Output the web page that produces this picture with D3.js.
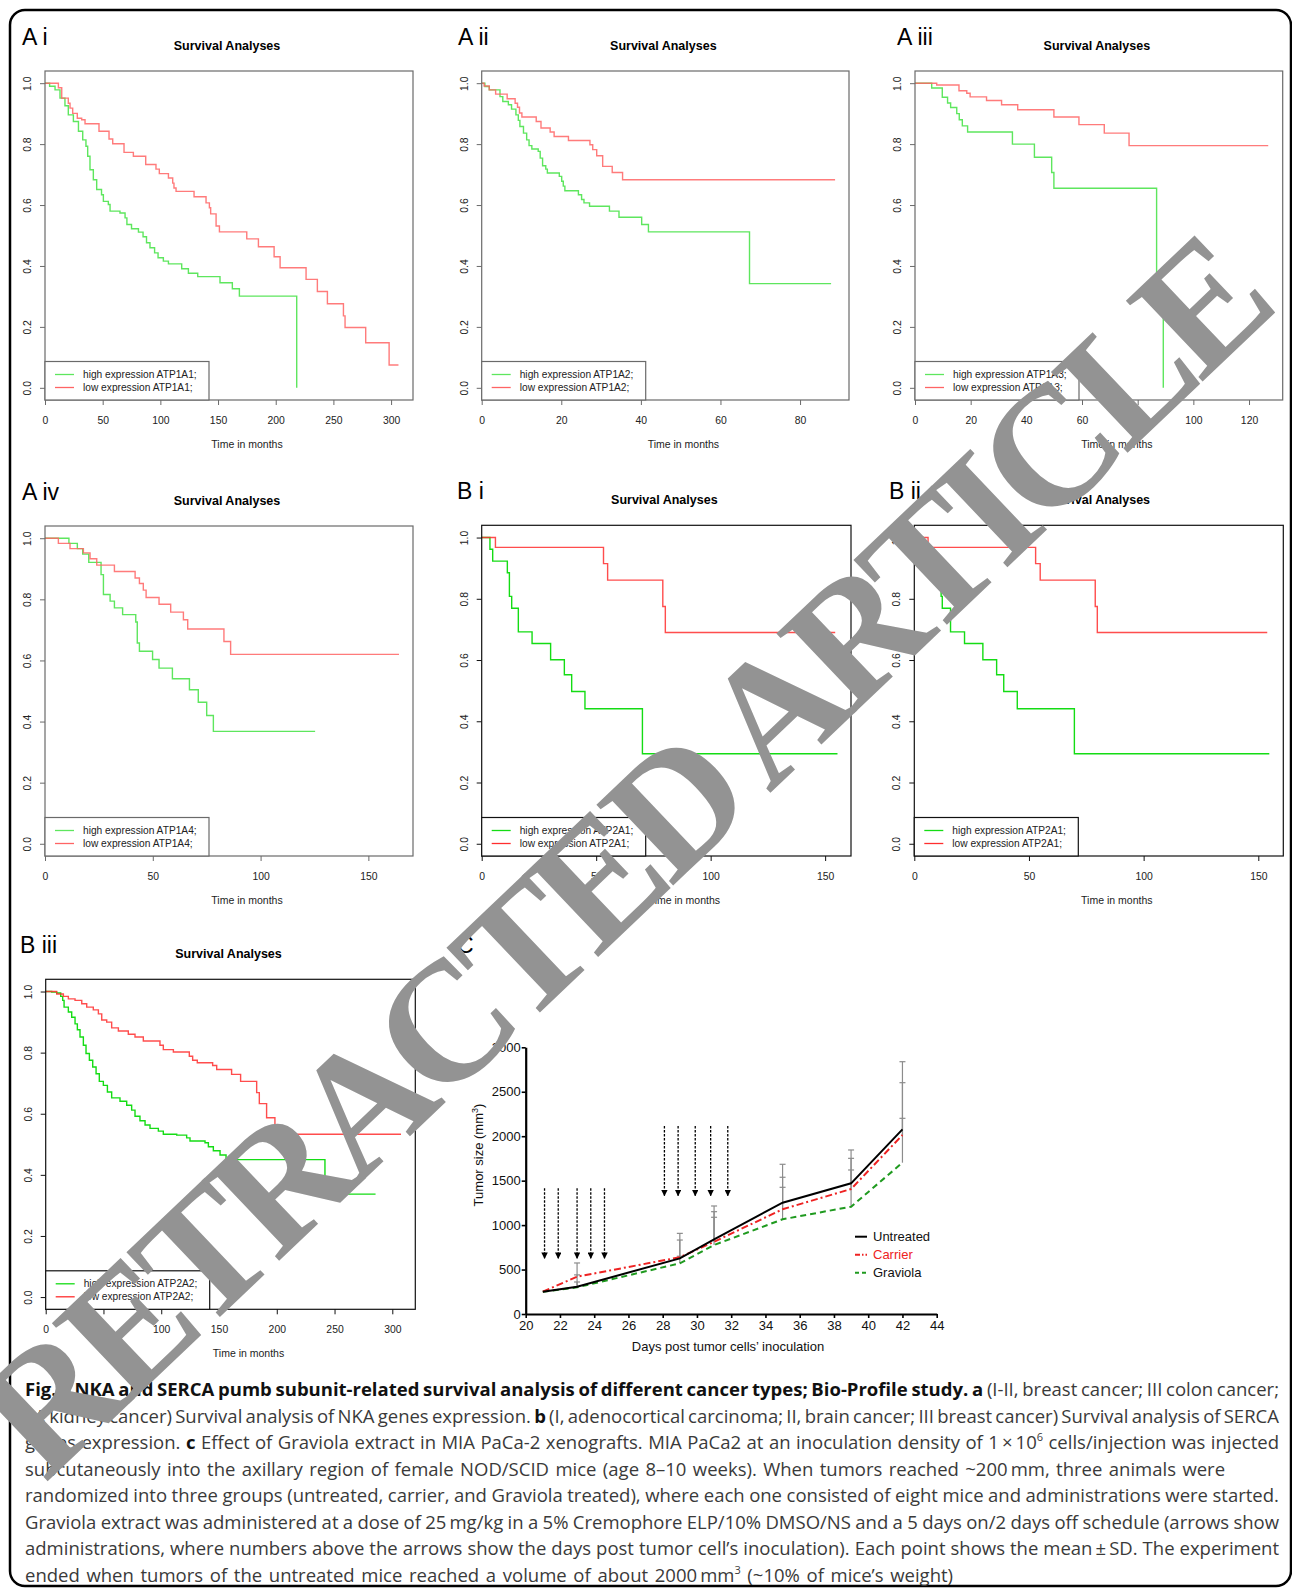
<!DOCTYPE html>
<html>
<head>
<meta charset="utf-8">
<script src="https://cdn.jsdelivr.net/npm/d3@7"></script>
<style>
  body { margin: 0; background: #fff; }
  svg { display: block; }
</style>
</head>
<body>
<script>
// ---- survival curves: [time in months, survival after the drop] ----
const aiHigh = [[0,1],[4,0.99],[8.7,0.978],[13,0.951],[17.3,0.926],[20.2,0.896],[24.6,0.874],[29,0.842],[32.7,0.814],[35.5,0.793],[37,0.76],[39,0.716],[41.9,0.683],[44.8,0.651],[49,0.634],[50.6,0.612],[54.9,0.602],[56.4,0.58],[65,0.574],[69.4,0.558],[71,0.536],[75,0.522],[81,0.511],[85,0.496],[88,0.476],[91,0.46],[95,0.443],[98,0.427],[102.6,0.416],[107,0.407],[118.5,0.391],[124.3,0.376],[132.4,0.365],[151.7,0.345],[162.4,0.325],[168.5,0.301],[218.2,0]];
const aiLow = [[0,1],[11.6,0.985],[14.5,0.951],[20.2,0.934],[21.7,0.918],[24,0.901],[28,0.885],[31.8,0.88],[34.7,0.867],[46.8,0.842],[55.5,0.817],[58.7,0.801],[68.5,0.773],[76.6,0.76],[87.3,0.733],[96.2,0.718],[99.1,0.703],[107,0.689],[110.7,0.672],[111.8,0.656],[113.6,0.645],[129.2,0.627],[139.6,0.607],[142.5,0.591],[143.6,0.571],[148.3,0.531],[151.2,0.512],[174.9,0.489],[185,0.463],[198.6,0.43],[203.8,0.394],[226.3,0.356],[236.1,0.316],[244.8,0.276],[258.7,0.236],[260.1,0.198],[278,0.148],[298.3,0.075],[306.4,0.075]];
const aiiHigh = [[0,1],[0.8,0.989],[1.9,0.978],[4.6,0.956],[5.3,0.94],[6.7,0.929],[7.5,0.915],[8.6,0.896],[9.2,0.878],[9.6,0.858],[10.5,0.836],[11.3,0.814],[11.9,0.795],[12.6,0.784],[14.2,0.776],[14.7,0.754],[15.3,0.729],[16.1,0.718],[16.5,0.705],[19.5,0.694],[20.1,0.678],[20.5,0.662],[20.9,0.647],[24.3,0.634],[25.1,0.618],[25.7,0.607],[27.1,0.596],[32.1,0.58],[34.5,0.56],[40.2,0.536],[41.9,0.512],[67.3,0.342],[87.8,0.342]];
const aiiLow = [[0,1],[0.6,0.991],[1.9,0.978],[3.5,0.964],[6.4,0.949],[8.4,0.934],[9,0.921],[9.5,0.902],[10.1,0.889],[13.7,0.874],[14.9,0.853],[17.2,0.84],[18.2,0.825],[21.8,0.812],[27.2,0.798],[27.9,0.782],[28.9,0.762],[30.4,0.727],[32.8,0.707],[35.4,0.683],[88.8,0.683]];
const aiiiHigh = [[0,1],[6,0.984],[9.8,0.954],[11.7,0.935],[12.8,0.92],[15,0.9],[15.9,0.88],[17,0.86],[18.9,0.84],[35,0.8],[42.9,0.757],[49.1,0.707],[49.9,0.655],[86.8,0.328],[89.2,0]];
const aiiiLow = [[0,1],[7.8,0.994],[15.8,0.975],[18.6,0.967],[19.8,0.955],[25.7,0.943],[31.1,0.929],[36.9,0.913],[49.9,0.889],[58.9,0.864],[68,0.836],[76.9,0.795],[126.9,0.795]];
const aivHigh = [[0,1],[11.1,0.983],[15,0.966],[17.5,0.948],[20.3,0.921],[26,0.881],[27.1,0.816],[30.2,0.794],[32.2,0.772],[36,0.75],[42.1,0.726],[42.8,0.657],[43.8,0.63],[49.9,0.603],[52.9,0.575],[59.1,0.54],[67,0.504],[71.1,0.463],[75,0.42],[78.1,0.368],[125.3,0.368]];
const aivLow = [[0,1],[6.2,0.983],[11.6,0.966],[17.8,0.952],[20.9,0.933],[24,0.912],[32.2,0.891],[41.8,0.87],[43.8,0.852],[45.6,0.83],[46.9,0.806],[52.9,0.784],[58.3,0.758],[64.2,0.733],[66.2,0.703],[83,0.662],[86.1,0.62],[164.2,0.62]];
const biHigh = [[0,1],[3.6,0.962],[4.8,0.923],[11.2,0.885],[12.1,0.808],[13.1,0.769],[16,0.692],[22,0.654],[30.1,0.601],[36.1,0.552],[39.3,0.497],[45.1,0.441],[70.2,0.294],[155.4,0.294]];
const biLow = [[0,1],[6,0.968],[53.2,0.915],[55,0.861],[79.1,0.775],[80.2,0.69],[154.4,0.69]];
const biiHigh = [[0,1],[3.9,0.962],[4.9,0.923],[10.9,0.885],[11.7,0.808],[12.2,0.769],[15.8,0.692],[21.9,0.654],[29.9,0.601],[35.9,0.552],[39,0.497],[44.9,0.441],[69.8,0.294],[154.8,0.294]];
const biiLow = [[0,1],[6,0.968],[52.9,0.915],[54.9,0.861],[78.9,0.775],[79.8,0.69],[153.9,0.69]];
const biiiHigh = [[0,1],[5.2,0.998],[9.5,0.995],[13,0.984],[14.7,0.971],[15.9,0.949],[19.6,0.933],[22.5,0.916],[25.4,0.894],[27.4,0.875],[29.7,0.851],[32.6,0.824],[34.9,0.797],[37.8,0.775],[40.7,0.753],[43.6,0.731],[46.4,0.706],[49.9,0.693],[53.4,0.671],[57.1,0.652],[64.3,0.641],[70.1,0.628],[74.4,0.612],[77.3,0.592],[81.6,0.577],[86,0.563],[90.3,0.552],[97.5,0.543],[101.8,0.533],[113.4,0.53],[122,0.521],[124.9,0.511],[137.9,0.505],[140.8,0.492],[145.1,0.479],[150.9,0.465],[156.1,0.45],[241.7,0.337],[285.5,0.337]];
const biiiLow = [[0,1],[9.5,0.992],[15.3,0.984],[19.6,0.976],[25.4,0.971],[31.2,0.96],[35.5,0.949],[41.2,0.94],[45.6,0.927],[48.5,0.907],[52.8,0.9],[57.1,0.881],[62.9,0.871],[71.5,0.86],[77.3,0.851],[84.5,0.838],[98.9,0.824],[101.8,0.81],[110.5,0.802],[124.3,0.788],[127.2,0.775],[131.2,0.767],[144.5,0.758],[148,0.745],[160.9,0.729],[168.7,0.706],[182.6,0.669],[184.9,0.633],[191.2,0.587],[198.4,0.533],[307.5,0.533]];

const survTicks = [0, 0.2, 0.4, 0.6, 0.8, 1.0];

// ---- panel C: tumour volume (mm3) ----
const days = [21, 23, 29, 31, 35, 39, 42];
const untreated = [251, 307, 626, 840, 1252, 1470, 2077];
const carrier = [251, 420, 638, 813, 1178, 1406, 2013];
const graviola = [251, 300, 570, 776, 1065, 1207, 1702];
const untreatedSD = [0, 133, 281, 375, 432, 375, 761];
const carrierSD = [0, 154, 194, 338, 360, 345, 589];
const graviolaSD = [0, 60, 80, 312, 360, 413, 499];
const doseDays1 = [21.1, 21.9, 23.0, 23.8, 24.6];
const doseDays2 = [28.1, 28.9, 29.9, 30.8, 31.8];
const dayTicks = d3.range(20, 45, 2);
const volTicks = d3.range(0, 3001, 500);

const W = 1292, H = 1588;
const svg = d3.select("body").append("svg").attr("width", W).attr("height", H);
const sans = "'Liberation Sans', Arial, Helvetica, sans-serif";

// outer frame
svg.append("rect")
  .attr("x", 10).attr("y", 10).attr("width", 1281).attr("height", 1576)
  .attr("rx", 15).attr("fill", "none").attr("stroke", "#000").attr("stroke-width", 2.5);

const panels = [
  {label: "A i", lx: 22, ly: 45, x0: 45, y0: 71, x1: 413, y1: 400, xmax: 319, xticks: d3.range(0, 301, 50), high: aiHigh, low: aiLow, gene: "ATP1A1", kind: "A"},
  {label: "A ii", lx: 458, ly: 45, x0: 481.7, y0: 71, x1: 849, y1: 400, xmax: 92.3, xticks: d3.range(0, 81, 20), high: aiiHigh, low: aiiLow, gene: "ATP1A2", kind: "A"},
  {label: "A iii", lx: 897, ly: 45, x0: 915, y0: 71, x1: 1282.7, y1: 400, xmax: 132.1, xticks: d3.range(0, 121, 20), high: aiiiHigh, low: aiiiLow, gene: "ATP1A3", kind: "A"},
  {label: "A iv", lx: 22, ly: 500, x0: 45, y0: 526, x1: 413, y1: 856, xmax: 170.7, xticks: [0, 50, 100, 150], high: aivHigh, low: aivLow, gene: "ATP1A4", kind: "A"},
  {label: "B i", lx: 457, ly: 499, x0: 481.7, y0: 525.3, x1: 851, y1: 856, xmax: 161.3, xticks: [0, 50, 100, 150], high: biHigh, low: biLow, gene: "ATP2A1", kind: "B"},
  {label: "B ii", lx: 889, ly: 499, x0: 914.3, y0: 525.3, x1: 1283.3, y1: 856, xmax: 160.9, xticks: [0, 50, 100, 150], high: biiHigh, low: biiLow, gene: "ATP2A1", kind: "B"},
  {label: "B iii", lx: 20, ly: 953, x0: 45.7, y0: 979.3, x1: 415.3, y1: 1309.3, xmax: 319.9, xticks: d3.range(0, 301, 50), high: biiiHigh, low: biiiLow, gene: "ATP2A2", kind: "B"}
];

function kmPanel(p) {
  const g = svg.append("g");
  const x = d3.scaleLinear().domain([0, p.xmax]).range([p.x0, p.x1]);
  const y = d3.scaleLinear().domain([-0.04, 1.04]).range([p.y1, p.y0]);
  const boxCol = p.kind === "A" ? "#6a6a6a" : "#111";
  const green = p.kind === "A" ? "#5ee65e" : "#14dc14";
  const red = p.kind === "A" ? "#ff6464" : "#ff2e2e";
  const cx = (p.x0 + p.x1) / 2;

  g.append("text").attr("x", p.lx).attr("y", p.ly)
    .attr("font-family", sans).attr("font-size", 23).text(p.label);
  g.append("text").attr("x", cx - 2).attr("y", p.y0 - 21)
    .attr("text-anchor", "middle").attr("font-family", sans)
    .attr("font-size", 12.5).attr("font-weight", "bold").text("Survival Analyses");
  g.append("text").attr("x", cx + 18).attr("y", p.y1 + 48)
    .attr("text-anchor", "middle").attr("font-family", sans)
    .attr("font-size", 10.5).attr("fill", "#222").text("Time in months");

  const line = d3.line().curve(d3.curveStepAfter).x(d => x(d[0])).y(d => y(d[1]));
  g.append("path").datum(p.high).attr("d", line).attr("fill", "none")
    .attr("stroke", green).attr("stroke-width", 1.4);
  g.append("path").datum(p.low).attr("d", line).attr("fill", "none")
    .attr("stroke", red).attr("stroke-width", 1.4).attr("stroke-opacity", 0.85);

  // axes
  const xa = g.append("g").attr("transform", `translate(0,${p.y1})`)
    .call(d3.axisBottom(x).tickValues(p.xticks).tickSize(5).tickFormat(d3.format("d")));
  xa.select(".domain").remove();
  xa.selectAll("line").attr("stroke", boxCol);
  xa.selectAll("text").attr("dy", null).attr("y", 24)
    .attr("font-family", sans).attr("font-size", 10.4).attr("fill", "#222");

  const ya = g.append("g").attr("transform", `translate(${p.x0},0)`)
    .call(d3.axisLeft(y).tickValues(survTicks).tickSize(5).tickFormat(d3.format(".1f")));
  ya.select(".domain").remove();
  ya.selectAll("line").attr("stroke", boxCol);
  ya.selectAll("text").attr("dy", null).attr("x", 0).attr("y", -14)
    .attr("transform", "rotate(-90)").attr("text-anchor", "middle")
    .attr("font-family", sans).attr("font-size", 10.4).attr("fill", "#222");

  g.append("rect").attr("x", p.x0).attr("y", p.y0)
    .attr("width", p.x1 - p.x0).attr("height", p.y1 - p.y0)
    .attr("fill", "none").attr("stroke", boxCol).attr("stroke-width", 1.2);

  // legend
  const lg = g.append("g").attr("transform", `translate(${p.x0},${p.y1 - 38.5})`);
  lg.append("rect").attr("width", 164).attr("height", 38.5)
    .attr("fill", "#fff").attr("stroke", boxCol).attr("stroke-width", 1.2);
  [["high expression " + p.gene + ";", green], ["low expression " + p.gene + ";", red]]
    .forEach(([t, c], i) => {
      const yy = 13 + i * 13;
      lg.append("line").attr("x1", 10).attr("x2", 29).attr("y1", yy).attr("y2", yy)
        .attr("stroke", c).attr("stroke-width", 1.3);
      lg.append("text").attr("x", 38).attr("y", yy + 3.6)
        .attr("font-family", sans).attr("font-size", 10.2).attr("fill", "#222").text(t);
    });
}
panels.forEach(kmPanel);

// ---- panel C ----
(function () {
  const g = svg.append("g");
  const x = d3.scaleLinear().domain([20, 44]).range([525.7, 936.7]);
  const y = d3.scaleLinear().domain([0, 3000]).range([1314, 1047.3]);

  g.append("text").attr("x", 457).attr("y", 953)
    .attr("font-family", sans).attr("font-size", 23).text("C");

  const xa = g.append("g").attr("transform", "translate(0,1314)")
    .call(d3.axisBottom(x).tickValues(dayTicks).tickSize(4).tickSizeOuter(0));
  xa.select(".domain").attr("stroke-width", 2.2);
  xa.selectAll("line").attr("stroke-width", 1.6);
  xa.selectAll("text").attr("dy", null).attr("y", 16)
    .attr("font-family", sans).attr("font-size", 13).attr("fill", "#111");

  const ya = g.append("g").attr("transform", "translate(525.7,0)")
    .call(d3.axisLeft(y).tickValues(volTicks).tickSize(4).tickPadding(1)
      .tickSizeOuter(0).tickFormat(d3.format("d")));
  ya.select(".domain").attr("stroke-width", 2.2);
  ya.selectAll("line").attr("stroke-width", 1.6);
  ya.selectAll("text").attr("font-family", sans).attr("font-size", 13).attr("fill", "#111");

  g.append("text").attr("transform", "translate(483,1155) rotate(-90)")
    .attr("text-anchor", "middle").attr("font-family", sans).attr("font-size", 13)
    .attr("fill", "#111")
    .html("Tumor size (mm<tspan dy='-5' font-size='9'>3</tspan><tspan dy='5'>)</tspan>");
  g.append("text").attr("x", 728).attr("y", 1351)
    .attr("text-anchor", "middle").attr("font-family", sans).attr("font-size", 13)
    .attr("fill", "#111").text("Days post tumor cells\u2019 inoculation");

  // dosing arrows
  svg.append("defs").append("marker").attr("id", "ah")
    .attr("viewBox", "0 0 10 10").attr("refX", 9).attr("refY", 5)
    .attr("markerWidth", 5).attr("markerHeight", 5).attr("orient", "auto")
    .append("path").attr("d", "M0,0L10,5L0,10z").attr("fill", "#000");
  [[doseDays1, 1414, 627], [doseDays2, 2115, 1331]].forEach(([ds, top, bot]) => {
    g.selectAll(null).data(ds).join("line")
      .attr("x1", d => x(d)).attr("x2", d => x(d))
      .attr("y1", y(top)).attr("y2", y(bot))
      .attr("stroke", "#000").attr("stroke-width", 1.3)
      .attr("stroke-dasharray", "2.5,1.5").attr("marker-end", "url(#ah)");
  });

  const series = [
    {name: "Untreated", vals: untreated, sd: untreatedSD, color: "#000", dash: null, w: 2, text: "#111"},
    {name: "Carrier", vals: carrier, sd: carrierSD, color: "#ee2222", dash: "7,3,2,3", w: 2, text: "#ee2222"},
    {name: "Graviola", vals: graviola, sd: graviolaSD, color: "#1f9a1f", dash: "6,4", w: 2, text: "#111"}
  ];

  // error bars (upper SD)
  series.forEach(s => {
    days.forEach((d, i) => {
      if (!s.sd[i]) return;
      const xx = x(d), y0 = y(s.vals[i]), y1 = y(s.vals[i] + s.sd[i]);
      g.append("line").attr("x1", xx).attr("x2", xx).attr("y1", y0).attr("y2", y1)
        .attr("stroke", "#8c8c8c").attr("stroke-width", 1.2);
      g.append("line").attr("x1", xx - 3).attr("x2", xx + 3).attr("y1", y1).attr("y2", y1)
        .attr("stroke", "#8c8c8c").attr("stroke-width", 1.2);
    });
  });

  const line = d3.line().x((d, i) => x(days[i])).y(d => y(d));
  series.slice().reverse().forEach(s => {
    g.append("path").datum(s.vals).attr("d", line).attr("fill", "none")
      .attr("stroke", s.color).attr("stroke-width", s.w)
      .attr("stroke-dasharray", s.dash);
  });

  series.forEach((s, i) => {
    const yy = 1236.7 + i * 18;
    g.append("line").attr("x1", 855).attr("x2", 867).attr("y1", yy).attr("y2", yy)
      .attr("stroke", s.color).attr("stroke-width", 2)
      .attr("stroke-dasharray", i === 1 ? "5,2,1.5,2" : i === 2 ? "4,3" : null);
    g.append("text").attr("x", 873).attr("y", yy + 4.6)
      .attr("font-family", sans).attr("font-size", 13).attr("fill", s.text).text(s.name);
  });
})();

// ---- caption ----
const capLines = [
  {segs: [["Fig. 6 NKA and SERCA pumb subunit-related survival analysis of different cancer types; Bio-Profile study. a", "b"], [" (I-II, breast cancer; III colon cancer;", "n"]], w: 1254},
  {segs: [["IV, kidney cancer) Survival analysis of NKA genes expression. ", "n"], ["b", "b"], [" (I, adenocortical carcinoma; II, brain cancer; III breast cancer) Survival analysis of SERCA", "n"]], w: 1254},
  {segs: [["genes expression. ", "n"], ["c", "b"], [" Effect of Graviola extract in MIA PaCa-2 xenografts. MIA PaCa2 at an inoculation density of 1\u2009\u00d7\u200910", "n"], ["6", "s"], [" cells/injection was injected", "n"]], w: 1254},
  {segs: [["subcutaneously into the axillary region of female NOD/SCID mice (age 8\u201310 weeks). When tumors reached ~200\u2009mm, three animals were", "n"]], w: 1200},
  {segs: [["randomized into three groups (untreated, carrier, and Graviola treated), where each one consisted of eight mice and administrations were started.", "n"]], w: 1254},
  {segs: [["Graviola extract was administered at a dose of 25\u2009mg/kg in a 5% Cremophore ELP/10% DMSO/NS and a 5 days on/2 days off schedule (arrows show", "n"]], w: 1254},
  {segs: [["administrations, where numbers above the arrows show the days post tumor cell\u2019s inoculation). Each point shows the mean\u2009\u00b1\u2009SD. The experiment", "n"]], w: 1254},
  {segs: [["ended when tumors of the untreated mice reached a volume of about 2000\u2009mm", "n"], ["3", "s"], [" (~10% of mice\u2019s weight)", "n"]], w: 928}
];
capLines.forEach((ln, i) => {
  const t = svg.append("text").attr("x", 25).attr("y", 1396 + i * 26.5)
    .attr("font-family", "'Open Sans', 'Noto Sans', sans-serif").attr("font-size", 18.5)
    .attr("fill", "#3a3a3a");
  let lifted = false;
  ln.segs.forEach(([s, k]) => {
    const ts = t.append("tspan").text(s);
    if (k === "b") ts.attr("font-weight", "bold").attr("fill", "#111");
    if (k === "s") { ts.attr("font-size", 11).attr("dy", -8); lifted = true; }
    else if (lifted) { ts.attr("dy", 8); lifted = false; }
  });
  const natural = t.node().getComputedTextLength();
  const spaces = ln.segs.map(s => s[0]).join("").split(" ").length - 1;
  t.attr("word-spacing", ((ln.w - natural) / spaces).toFixed(2));
});

// ---- watermark ----
svg.append("text")
  .attr("transform", "translate(660,898) rotate(-43.6)")
  .attr("text-anchor", "middle")
  .attr("font-family", "'Liberation Serif', 'Times New Roman', serif")
  .attr("font-size", 170).attr("font-weight", "bold").attr("letter-spacing", -10)
  .attr("fill", "#939393")
  .text("RETRACTED ARTICLE");
</script>
</body>
</html>
